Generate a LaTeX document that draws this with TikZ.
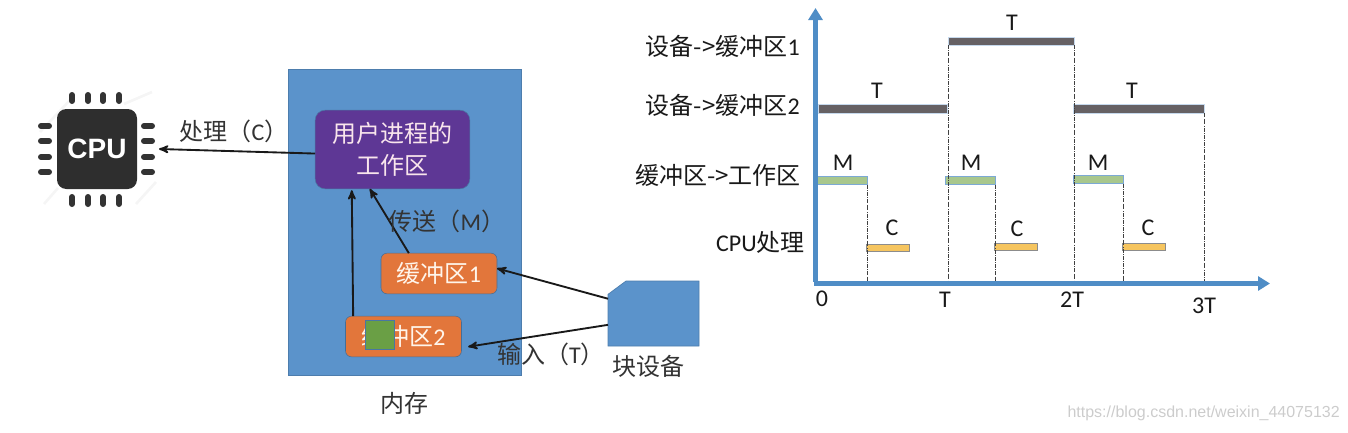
\documentclass[tikz,border=0pt]{standalone}
\usepackage{fontspec}
\setmainfont{Carlito}
\newfontfamily\cjk{Noto Sans CJK SC}
\newfontfamily\chipfont{Liberation Sans}
\usetikzlibrary{arrows,arrows.meta,shapes,positioning}

\definecolor{memblue}{HTML}{5B93CB}
\definecolor{axisblue}{HTML}{4F8DC6}
\definecolor{procpurple}{HTML}{5E3795}
\definecolor{buforange}{HTML}{E2763B}
\definecolor{markgreen}{HTML}{6A9F45}
\definecolor{bargray}{HTML}{666164}
\definecolor{bargreen}{HTML}{A8C78D}
\definecolor{baryellow}{HTML}{F6C55F}

\begin{document}
\begin{tikzpicture}[x=0.75pt,y=-0.75pt,>=stealth',
    txt/.style={font=\fontsize{18}{22}\selectfont,inner sep=0pt,text=black!80},
    lbl/.style={font=\fontsize{18}{22}\selectfont,inner sep=0pt,text=black!90},
    link/.style={->,line width=1.4pt,black!90},
    bufbox/.style={draw=black!25!memblue,fill=buforange,rounded corners=4.5pt,
      minimum width=87pt,minimum height=30.5pt,inner sep=0pt,text=white!92!orange,outer sep=0pt,
      font=\fontsize{18}{22}\selectfont},
    pin/.style={line width=4.5pt,line cap=round,black!80},
    axis/.style={-{Triangle[width=10.5pt,length=9pt]},line width=3.8pt,axisblue},
    guide/.style={densely dashdotted,line width=.5pt,black!75},
    barT/.style={fill=bargray,draw=memblue!35,line width=.4pt,minimum width=97pt,minimum height=7pt,inner sep=0pt,outer sep=0pt},
    barM/.style={fill=bargreen,draw=memblue!80,line width=.6pt,minimum width=37.5pt,minimum height=6.5pt,inner sep=0pt,outer sep=0pt},
    barC/.style={fill=baryellow,draw=black!45,line width=.5pt,minimum width=32pt,minimum height=5.2pt,inner sep=0pt,outer sep=0pt}]

  \useasboundingbox (0,0) rectangle (1348,432);

  % left part
  \foreach \a/\b/\c/\d in {40/132/72/98,44/204/58/188,136/204/156/182,124/104/152/92} {
    \draw[line width=2pt,black!4] (\a,\b) -- (\c,\d);
  }
  \node[fill=black!82,rounded corners=7pt,minimum size=60pt,inner sep=0pt,outer sep=0pt,text=white,
        font=\chipfont\bfseries\fontsize{21}{24}\selectfont] (cpu) at (97,149) {CPU};
  \foreach \x in {72,88,103,119} {
    \draw[pin] (\x,95) -- (\x,101);
    \draw[pin] (\x,197) -- (\x,204);
  }
  \foreach \y in {126,141,157,172} {
    \draw[pin] (41,\y) -- (49,\y);
    \draw[pin] (144,\y) -- (152,\y);
  }

  \node[fill=memblue,draw=black!15!memblue,line width=.5pt,minimum width=174.75pt,minimum height=229.5pt,outer sep=0pt] (mem) at (404.5,222) {};
  \node[draw=memblue!80!black,fill=procpurple,rounded corners=7.5pt,minimum width=116pt,minimum height=59pt,
        align=center,inner sep=0pt,outer sep=0pt,text=white!90!purple,font=\fontsize{18}{24}\selectfont] (proc) at (392.5,149.5) {\cjk 用户进程的\\\cjk 工作区};
  \node[bufbox] (buf1) at (439,273.5) {\cjk 缓冲区\rmfamily 1};
  \node[bufbox] (buf2) at (403.5,336.5) {\cjk 缓冲区\rmfamily 2};
  \node[draw=memblue!80!black,fill=markgreen,minimum size=22pt,inner sep=0pt,line width=.5pt] (mark) at (379.5,334.5) {};
  \node[minimum width=68.25pt,minimum height=48.75pt,inner sep=0pt,outer sep=0pt] (dev) at (653.5,313.5) {};
  \filldraw[fill=memblue,draw=black!15!memblue,line width=.5pt] ([yshift=-10pt]dev.north west) -- ([xshift=13.5pt]dev.north west)
    -- (dev.north east) -- (dev.south east) -- (dev.south west) -- cycle;

  \draw[link] (proc.183) -- ([xshift=16.5pt]cpu.east);
  \draw[link] (buf1.146) -- (proc.240);
  \draw[link] (buf2.158) -- ([yshift=-1pt]proc.224);
  \draw[link] (dev.162) -- (buf1.5);
  \draw[link] (dev.194) -- ([xshift=5pt]buf2.-10);

  \node[txt] (lc) at (234,131) {\cjk 处理（\rmfamily C\cjk ）};
  \node[txt] (lm) at (447,221) {\cjk 传送（\rmfamily M\cjk ）};
  \node[txt] (lt) at (551,354) {\cjk 输入（\rmfamily T\cjk ）};
  \node[txt] (ld) at (648.5,366) {\cjk 块设备};
  \node[txt] (lr) at (404.5,403) {\cjk 内存};

  % right part
  \coordinate (o) at (815.5,283.5);
  \coordinate (ytop) at (815.5,8);
  \coordinate (xend) at (1270,283.5);
  \node[barT,minimum width=94.5pt,minimum height=6pt] (d1) at (1011,41) {};
  \node[barT] (d2a) at (882.5,108.5) {};
  \node[barT,minimum width=98pt] (d2b) at (1138.5,108.5) {};
  \node[barM] (m1) at (842.5,180.5) {};
  \node[barM] (m2) at (970,180.5) {};
  \node[barM] (m3) at (1098,179.5) {};
  \node[barC] (c1) at (887.5,247.5) {};
  \node[barC] (c2) at (1016,246.5) {};
  \node[barC] (c3) at (1143.5,246.5) {};

  \draw[guide] (d1.south west) -- (d1.south west |- o);
  \draw[guide] (d1.south east) -- (d1.south east |- o);
  \draw[guide] (d2b.south east) -- (d2b.south east |- o);
  \draw[guide] (m1.south east) -- (m1.south east |- o);
  \draw[guide] (m2.south east) -- (m2.south east |- o);
  \draw[guide] (m3.south east) -- (m3.south east |- o);
  \draw[axis] ([xshift=-1.4pt]o) -- (xend);
  \draw[axis] ([yshift=1.4pt]o) -- (ytop);

  \node[lbl] (tt1) at (1012,23) {T};
  \node[lbl] (tt2) at (877,91) {T};
  \node[lbl] (tt3) at (1132,91) {T};
  \node[lbl] (tm1) at (843,163) {M};
  \node[lbl] (tm2) at (971,163) {M};
  \node[lbl] (tm3) at (1098,163) {M};
  \node[lbl] (tc1) at (892,228) {C};
  \node[lbl] (tc2) at (1017,229) {C};
  \node[lbl] (tc3) at (1148,228) {C};
  \node[lbl] (x0) at (822,299) {0};
  \node[lbl] (x1) at (945,300) {T};
  \node[lbl] (x2) at (1072,300) {2T};
  \node[lbl] (x3) at (1204,306) {3T};

  \node[lbl,anchor=east] (r1) at (800,46) {\cjk 设备->缓冲区\rmfamily 1};
  \node[lbl,anchor=east] (r2) at (800,105) {\cjk 设备->缓冲区\rmfamily 2};
  \node[lbl,anchor=east] (r3) at (801,175) {\cjk 缓冲区->工作区};
  \node[lbl,anchor=east] (r4) at (805,242) {\rmfamily CPU\cjk 处理};

  \node[inner sep=0pt,text=black!20,font=\chipfont\fontsize{12}{14}\selectfont,anchor=east] (wm) at (1340,413) {https://blog.csdn.net/weixin\_44075132};

\end{tikzpicture}
\end{document}
